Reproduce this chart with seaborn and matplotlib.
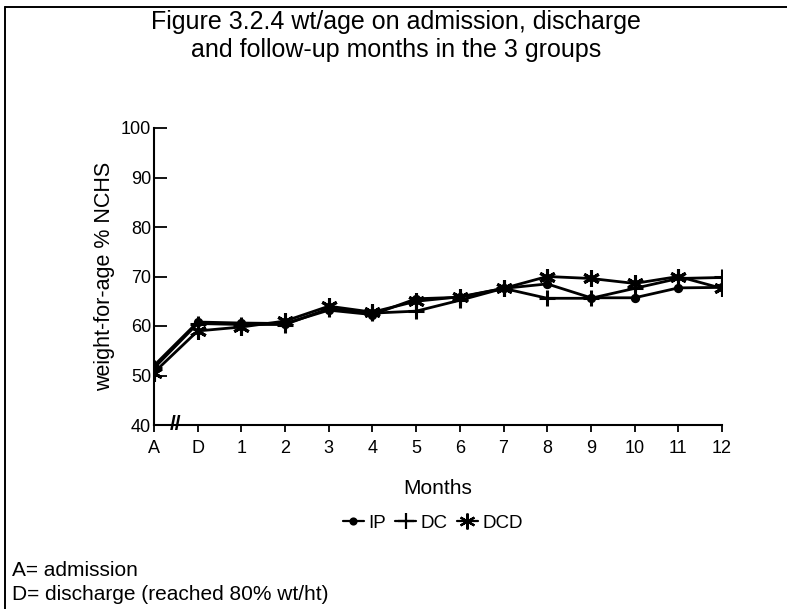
import matplotlib
matplotlib.use("Agg")
import matplotlib.pyplot as plt
import seaborn as sns
import pandas as pd
from matplotlib.lines import Line2D

sns.set_theme(style="white")
plt.rcParams['font.family'] = ['Liberation Sans', 'DejaVu Sans']
plt.rcParams['text.color'] = 'black'
plt.rcParams['axes.labelcolor'] = 'black'

# ---- data ----
months = ["A", "D", "1", "2", "3", "4", "5", "6", "7", "8", "9", "10", "11", "12"]
ip_vals = [52.0, 60.8, 60.6, 60.5, 63.2, 62.3, 65.5, 65.8, 67.6, 68.5, 65.7, 65.7, 67.7, 67.8]
dc_vals = [51.5, 60.5, 60.3, 60.3, 63.5, 62.6, 63.0, 65.2, 67.6, 65.6, 65.6, 67.6, 69.6, 69.8]
dcd_vals = [50.6, 59.0, 59.8, 61.0, 64.0, 62.8, 65.0, 65.9, 67.6, 70.0, 69.6, 68.6, 70.0, 67.6]
series_names = ["IP", "DC", "DCD"]
y_ticks = [40, 50, 60, 70, 80, 90, 100]

pos = list(range(len(months)))
df = pd.concat([
    pd.DataFrame({"pos": pos, "value": v, "group": n})
    for n, v in zip(series_names, [ip_vals, dc_vals, dcd_vals])
])

fig = plt.figure(figsize=(7.87, 6.09), dpi=100)
ax = fig.add_axes([154/787, 1-425/609, (722-154)/787, (425-128)/609])

markers = {"IP": "o", "DC": "+", "DCD": (6, 2, 0)}
sizes = {"IP": 4.5, "DC": 12, "DCD": 12}
for name in series_names:
    sub = df[df["group"] == name]
    sns.lineplot(data=sub, x="pos", y="value", ax=ax, color="black", lw=2.0,
                 marker=markers[name], markersize=sizes[name],
                 markeredgewidth=2.2, markeredgecolor="black",
                 markerfacecolor="black", label=name, legend=False)

ax.set_xlim(0, 13)
ax.set_ylim(40, 100)
ax.set_xticks(pos)
ax.set_xticklabels(months, fontsize=13)
ax.set_yticks(y_ticks)
ax.set_yticklabels([str(t) for t in y_ticks], fontsize=13)
ax.tick_params(axis="y", direction="in", length=9, width=1.3, pad=2, left=True, colors="black")
ax.tick_params(axis="x", direction="out", length=5, width=1.3, pad=6, bottom=True, colors="black")
for s in ["top", "right"]:
    ax.spines[s].set_visible(False)
for s in ["left", "bottom"]:
    ax.spines[s].set_color("black")
    ax.spines[s].set_linewidth(1.5)
ax.set_xlabel("Months", fontsize=15, labelpad=16, color="black")
ax.set_ylabel("weight-for-age % NCHS", fontsize=15.5, labelpad=4, color="black")

# axis break marks
ax.text(0.5, 40, "//", fontsize=15, fontweight="bold", ha="center", va="center",
        color="black", clip_on=False)

handles = [Line2D([], [], color="black", lw=1.6, marker=markers[n], markersize=sizes[n] * 0.95,
                  markeredgewidth=1.6, markerfacecolor="black") for n in series_names]
fig.legend(handles, series_names, loc="center", bbox_to_anchor=(433/787, 1-523/609),
           ncol=3, frameon=False, fontsize=13.5, handlelength=1.1, handletextpad=0.25,
           columnspacing=0.5)

fig.text(396/787, 1-22/609, "Figure 3.2.4 wt/age on admission, discharge", ha="center",
         va="center", fontsize=18)
fig.text(396/787, 1-50/609, "and follow-up months in the 3 groups", ha="center",
         va="center", fontsize=18)
fig.text(12/787, 1-571/609, "A= admission", ha="left", va="center", fontsize=15)
fig.text(12/787, 1-594/609, "D= discharge (reached 80% wt/ht)", ha="left", va="center", fontsize=15)

# frame lines (top and left)
fig.add_artist(Line2D([5/787, 1], [1-7/609, 1-7/609], color="black", lw=1.4, transform=fig.transFigure))
fig.add_artist(Line2D([5/787, 5/787], [0, 1-7/609], color="black", lw=1.4, transform=fig.transFigure))

fig.savefig("out.png", dpi=100)
